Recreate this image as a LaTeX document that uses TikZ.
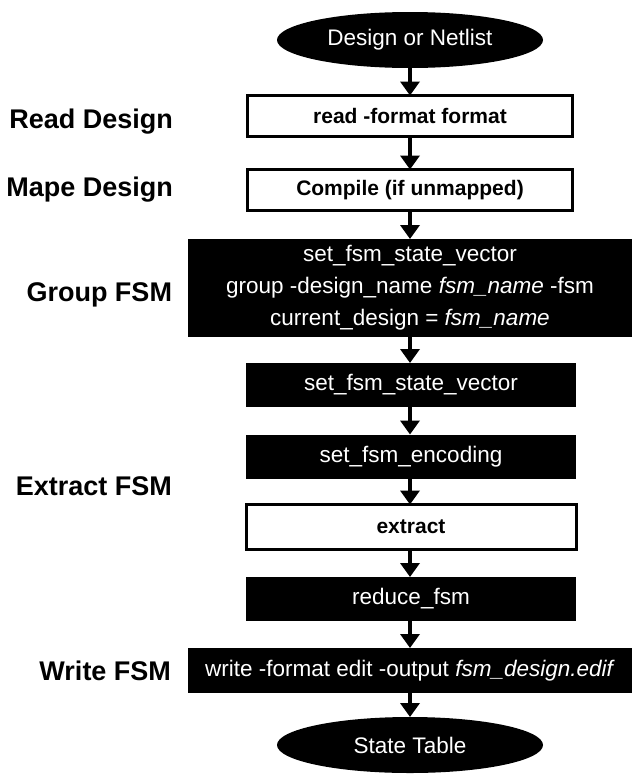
\documentclass[tikz,border=0pt]{standalone}
\usepackage{fontspec}
\setmainfont{Liberation Sans}
\usetikzlibrary{arrows.meta,shapes.geometric}
\begin{document}
\begin{tikzpicture}[x=1pt,y=-1pt,
  every node/.style={inner sep=0pt, outer sep=0pt},
  term/.style={ellipse, fill=black, text=white, minimum width=266pt, minimum height=56pt,
    font=\fontsize{22.5}{27}\selectfont},
  wbox/.style={rectangle, draw=black, line width=3pt, fill=white, minimum width=325pt,
    minimum height=41pt, font=\fontsize{21}{25}\selectfont\bfseries},
  bbox/.style={rectangle, fill=black, text=white, minimum width=330pt,
    minimum height=44pt, font=\fontsize{22.5}{32}\selectfont},
  steplabel/.style={anchor=base east, font=\fontsize{27}{30}\selectfont\bfseries},
  arr/.style={-{Triangle[width=19pt,length=14pt]}, line width=3.5pt}
]
\useasboundingbox (0,0) rectangle (635,774);

% flow column
\node[term] (src) at (410,40) {Design or Netlist};
\node[wbox] (read) at (410,116) {read -format format};
\node[wbox] (comp) at (410,190) {Compile (if unmapped)};
\node[bbox, minimum width=444pt, minimum height=98pt, align=center] (grp) at (410,288)
  {set\_fsm\_state\_vector\\
   group -design\_name \textit{fsm\_name} -fsm\\
   current\_design = \textit{fsm\_name}};
\node[bbox] (vec) at (411,385) {set\_fsm\_state\_vector};
\node[bbox] (enc) at (411,456.5) {set\_fsm\_encoding};
\node[wbox, minimum width=330pt, minimum height=45pt] (ext) at (411,527) {extract};
\node[bbox] (red) at (411,599) {reduce\_fsm};
\node[bbox, minimum width=444pt, minimum height=45pt] (wr) at (410,670.5)
  {write -format edit -output \textit{fsm\_design.edif}};
\node[term] (tab) at (410,745) {State Table};

% step labels
\node[steplabel] (lread) at (173,128) {Read Design};
\node[steplabel] (lmap) at (173,196) {Mape Design};
\node[steplabel] (lgrp) at (172,301) {Group FSM};
\node[steplabel] (lext) at (172,495) {Extract FSM};
\node[steplabel] (lwr) at (171,680) {Write FSM};

% connectors
\draw[arr] (src.south) -- (read.north);
\draw[arr] (read.south) -- (comp.north);
\draw[arr] (comp.south) -- (grp.north);
\draw[arr] (grp.south) -- (grp.south |- vec.north);
\draw[arr] (vec.south -| grp.south) -- (grp.south |- enc.north);
\draw[arr] (enc.south -| grp.south) -- (grp.south |- ext.north);
\draw[arr] (ext.south -| grp.south) -- (grp.south |- red.north);
\draw[arr] (red.south -| grp.south) -- (wr.north);
\draw[arr] (wr.south) -- (tab.north);
\end{tikzpicture}
\end{document}
